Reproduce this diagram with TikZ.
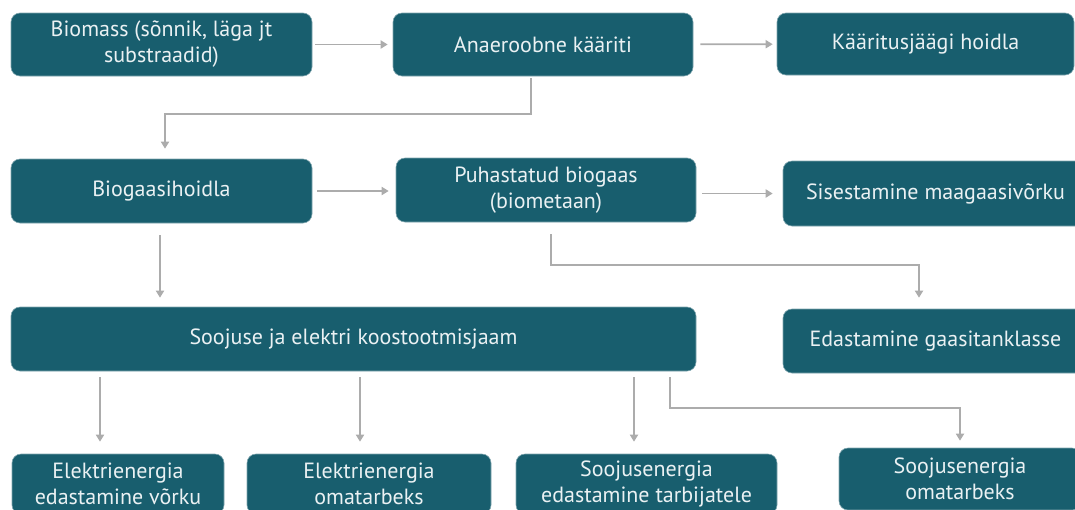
\documentclass[tikz,border=0pt]{standalone}
\usepackage{fontspec}
\setmainfont{PT Sans}
\usetikzlibrary{arrows.meta}

\definecolor{boxteal}{RGB}{24,94,110}
\definecolor{linegray}{RGB}{172,172,172}
\definecolor{boxtext}{RGB}{234,241,243}

\begin{document}
\begin{tikzpicture}[x=1pt,y=-1pt,
    box/.style={fill=boxteal, draw=boxteal!55!white, line width=0.6pt,
      rounded corners=9pt, text=boxtext, align=center, inner sep=0pt,
      font=\fontsize{22}{26}\selectfont},
    arr/.style={draw=linegray, line width=1.8pt,
      -{Triangle[width=8pt,length=7pt]}}]
      \useasboundingbox (0,0) rectangle (1075,509);
      \clip (0,0) rectangle (1075,509);

      % first row
      \node[box, minimum width=301pt, minimum height=63pt] (bio) at (161.5,44.5)
        {Biomass (sõnnik, läga jt\\substraadid)};
      \node[box, minimum width=300pt, minimum height=63pt] (anae) at (543,44.5)
        {Anaeroobne kääriti};
      \node[box, minimum width=297pt, minimum height=62pt] (kaar) at (925.5,44)
        {Kääritusjäägi hoidla};

      % second row
      \node[box, minimum width=301pt, minimum height=64pt] (hoid) at (161.5,191)
        {Biogaasihoidla};
      \node[box, minimum width=300pt, minimum height=64pt] (puha) at (546,190)
        {Puhastatud biogaas\\(biometaan)};
      \node[box, minimum width=305pt, minimum height=65pt] (sise) at (935.5,193.5)
        {Sisestamine maagaasivõrku};

      % third row
      \node[box, minimum width=685pt, minimum height=64pt] (soo) at (353.5,339)
        {Soojuse ja elektri koostootmisjaam};
      \node[box, minimum width=305pt, minimum height=64pt] (gaas) at (935.5,341)
        {Edastamine gaasitanklasse};

      % bottom row
      \node[box, minimum width=212pt, minimum height=60pt] (elvork) at (118,484)
        {Elektrienergia\\edastamine võrku};
      \node[box, minimum width=244pt, minimum height=60pt] (eloma) at (369,484)
        {Elektrienergia\\omatarbeks};
      \node[box, minimum width=261pt, minimum height=60pt] (sootarb) at (646.5,484)
        {Soojusenergia\\edastamine tarbijatele};
      \node[box, minimum width=242pt, minimum height=62pt] (sooma) at (960,479)
        {Soojusenergia\\omatarbeks};

      % arrows
      \draw[arr, shorten <=3pt, shorten >=5pt] (bio) -- (anae);
      \draw[arr, shorten <=7pt, shorten >=4pt] (anae) -- (kaar);
      \draw[arr, shorten <=5pt, shorten >=7pt] (hoid.east) -- (hoid.east -| puha.west);
      \draw[arr, shorten <=6pt, shorten >=10pt] (sise.west -| puha.east) -- (sise.west);
      \draw[arr, shorten >=10pt] ([xshift=-12pt,yshift=-2pt]anae.south) -- ++(0,36)
        -| ([xshift=3.5pt]hoid.north);
      \draw[arr, shorten <=12pt, shorten >=9pt] ([xshift=-1.5pt]hoid.south) -- ([xshift=-1.5pt]hoid.south |- soo.north);
      \draw[arr, shorten >=11pt] ([xshift=5pt,yshift=-12pt]puha.south) -- ++(0,31)
        -| ([xshift=-16.5pt]gaas.north);

      \draw[arr, shorten <=6pt, shorten >=12pt] ([xshift=-18pt]elvork.north |- soo.south) -- ([xshift=-18pt]elvork.north);
      \draw[arr, shorten <=6pt, shorten >=12pt] ([xshift=-9pt]eloma.north |- soo.south) -- ([xshift=-9pt]eloma.north);
      \draw[arr, shorten <=6pt, shorten >=12pt] ([xshift=-12.5pt]sootarb.north |- soo.south) -- ([xshift=-12.5pt]sootarb.north);
      \draw[arr, shorten >=7pt] ([xshift=316.5pt,yshift=-6pt]soo.south) -- ++(0,31)
        -| (sooma.north);
\end{tikzpicture}
\end{document}
